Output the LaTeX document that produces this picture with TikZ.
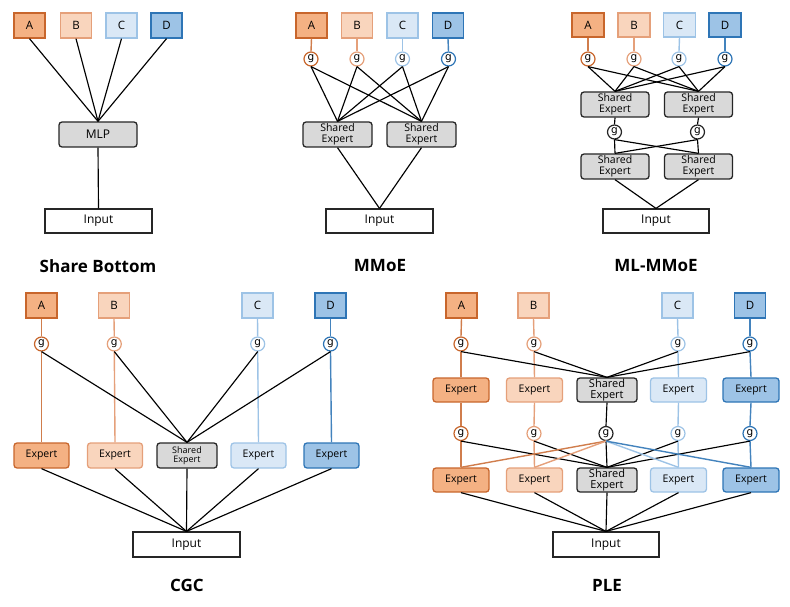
\documentclass[tikz,border=0pt]{standalone}
\usepackage{fontspec}
\setmainfont{Open Sans}
\newfontfamily\gatefont{DejaVu Sans}
\definecolor{oaF}{HTML}{F4B183}
\definecolor{oaD}{HTML}{C8662C}
\definecolor{obF}{HTML}{F9D5BD}
\definecolor{obD}{HTML}{E5A07A}
\definecolor{bcF}{HTML}{DAE8F6}
\definecolor{bcD}{HTML}{9DC3E6}
\definecolor{bdF}{HTML}{9DC3E6}
\definecolor{bdD}{HTML}{2E75B6}
\definecolor{gyF}{HTML}{D9D9D9}
\definecolor{gyD}{HTML}{262626}
\tikzset{
  box/.style={draw, line width=1.3pt, inner sep=0pt, text=black},
  task/.style={box, minimum width=31pt, minimum height=25pt, font=\fontsize{11.5}{11.5}\selectfont},
  tA/.style={task, fill=oaF, draw=oaD},
  tB/.style={task, fill=obF, draw=obD},
  tC/.style={task, fill=bcF, draw=bcD},
  tD/.style={task, fill=bdF, draw=bdD},
  gate/.style={circle, draw, fill=white, line width=1.2pt, minimum size=14pt, inner sep=0pt, font=\gatefont\fontsize{10.5}{10.5}\selectfont},
  gA/.style={gate, draw=oaD}, gB/.style={gate, draw=obD},
  gC/.style={gate, draw=bcD}, gD/.style={gate, draw=bdD},
  gS/.style={gate, draw=gyD},
  expbox/.style={box, rounded corners=3pt, minimum width=55pt, minimum height=25pt, font=\fontsize{10.5}{11}\selectfont},
  eA/.style={expbox, fill=oaF, draw=oaD},
  eB/.style={expbox, fill=obF, draw=obD},
  eC/.style={expbox, fill=bcF, draw=bcD},
  eD/.style={expbox, fill=bdF, draw=bdD},
  shared/.style={expbox, fill=gyF, draw=gyD, align=center, font=\fontsize{10.5}{10.5}\selectfont},
  inbox/.style={box, line width=1.2pt, draw=gyD, fill=white, minimum width=107pt, minimum height=24pt, font=\fontsize{12}{12}\selectfont},
  ttl/.style={font=\bfseries\fontsize{17}{17}\selectfont},
  link/.style={line width=1.15pt, draw=black},
  lA/.style={line width=1.4pt, draw=oaD!85!white},
  lB/.style={line width=1.4pt, draw=obD},
  lC/.style={line width=1.4pt, draw=bcD},
  lD/.style={line width=1.4pt, draw=bdD!90!white},
}
\begin{document}
\begin{tikzpicture}[x=1pt, y=-1pt]
\useasboundingbox (0,0) rectangle (790,607);

% ---------------- Share Bottom ----------------
\node[tA] (sbA) at (29.5,25.5) {A};
\node[tB] (sbB) at (76,25.5) {B};
\node[tC] (sbC) at (121.5,25.5) {C};
\node[tD] (sbD) at (166.5,25.5) {D};
\node[shared, minimum width=78pt, font=\fontsize{12}{12}\selectfont] (sbM) at (98,134.5) {MLP};
\node[inbox] (sbI) at (98.5,221) {Input};
\foreach \t in {A,B,C,D} \draw[link] (sb\t.south) -- (sbM.north);
\draw[link] (sbM.south) -- (sbI.north);
\node[ttl] (sbT) at (98,266) {Share Bottom};

% ---------------- MMoE ----------------
\node[tA] (mmA) at (311.5,25.5) {A};
\node[tB] (mmB) at (357,25.5) {B};
\node[tC] (mmC) at (402.5,25.5) {C};
\node[tD] (mmD) at (448,25.5) {D};
\node[gA] (mmgA) at (311,59) {g};
\node[gB] (mmgB) at (357,59) {g};
\node[gC] (mmgC) at (402.5,59) {g};
\node[gD] (mmgD) at (448.5,59) {g};
\node[shared, minimum width=69pt] (mmS1) at (337.5,134.5) {Shared\\Expert};
\node[shared, minimum width=69pt] (mmS2) at (421.5,134.5) {Shared\\Expert};
\node[inbox] (mmI) at (379.5,221) {Input};
\draw[lA] (mmA.south) -- (mmgA.north);
\draw[lB] (mmB.south) -- (mmgB.north);
\draw[lC] (mmC.south) -- (mmgC.north);
\draw[lD] (mmD.south) -- (mmgD.north);
\foreach \t in {A,B,C,D} {
  \draw[link] (mmg\t.south) -- (mmS1.north);
  \draw[link] (mmg\t.south) -- (mmS2.north);
}
\draw[link] (mmS1.south) -- (mmI.north);
\draw[link] (mmS2.south) -- (mmI.north);
\node[ttl] (mmT) at (380,266) {MMoE};

% ---------------- ML-MMoE ----------------
\node[tA, minimum width=32pt, minimum height=24pt] (mlA) at (588,25) {A};
\node[tB, minimum width=32pt, minimum height=24pt] (mlB) at (634,25) {B};
\node[tC, minimum width=32pt, minimum height=24pt] (mlC) at (679.5,25) {C};
\node[tD, minimum width=32pt, minimum height=24pt] (mlD) at (725,25) {D};
\node[gA] (mlgA) at (588,59) {g};
\node[gB] (mlgB) at (634,59) {g};
\node[gC] (mlgC) at (679,59) {g};
\node[gD] (mlgD) at (725,59) {g};
\node[shared, minimum width=68pt] (mlS1) at (615,104.5) {Shared\\Expert};
\node[shared, minimum width=68pt] (mlS2) at (698.5,104.5) {Shared\\Expert};
\node[gS] (mlg1) at (614.5,132) {g};
\node[gS] (mlg2) at (697.5,132) {g};
\node[shared, minimum width=68pt] (mlS3) at (615,166.5) {Shared\\Expert};
\node[shared, minimum width=68pt] (mlS4) at (698.5,166.5) {Shared\\Expert};
\node[inbox, minimum width=106pt] (mlI) at (656,221) {Input};
\draw[lA] (mlA.south) -- (mlgA.north);
\draw[lB] (mlB.south) -- (mlgB.north);
\draw[lC] (mlC.south) -- (mlgC.north);
\draw[lD] (mlD.south) -- (mlgD.north);
\foreach \t in {A,B,C,D} {
  \draw[link] (mlg\t.south) -- (mlS1.north);
  \draw[link] (mlg\t.south) -- (mlS2.north);
}
\draw[link] (mlS1.south) -- (mlg1.north);
\draw[link] (mlS2.south) -- (mlg2.north);
\draw[link] (mlg1.south) -- (mlS3.north);
\draw[link] (mlg1.south) -- (mlS4.north);
\draw[link] (mlg2.south) -- (mlS3.north);
\draw[link] (mlg2.south) -- (mlS4.north);
\draw[link] (mlS3.south) -- (mlI.north);
\draw[link] (mlS4.south) -- (mlI.north);
\node[ttl] (mlT) at (656,266) {ML-MMoE};

% ---------------- CGC ----------------
\node[tA] (cgA) at (41.5,305.5) {A};
\node[tB] (cgB) at (114,305.5) {B};
\node[tC] (cgC) at (257.5,305.5) {C};
\node[tD] (cgD) at (330.5,305.5) {D};
\node[gA] (cggA) at (41.5,344) {g};
\node[gB] (cggB) at (114.3,344) {g};
\node[gC] (cggC) at (257.7,344) {g};
\node[gD] (cggD) at (330.5,344) {g};
\node[eA] (cgEA) at (41.5,455.5) {Expert};
\node[eB] (cgEB) at (115,455.5) {Expert};
\node[shared, minimum width=60pt, font=\fontsize{9}{9.5}\selectfont] (cgS) at (187,455.5) {Shared\\Expert};
\node[eC] (cgEC) at (258.5,455.5) {Expert};
\node[eD] (cgED) at (331.5,455.5) {Expert};
\node[inbox, minimum height=25pt] (cgI) at (186.5,544.5) {Input};
\draw[lA] (cgA.south) -- (cggA.north);
\draw[lB] (cgB.south) -- (cggB.north);
\draw[lC] (cgC.south) -- (cggC.north);
\draw[lD] (cgD.south) -- (cggD.north);
\draw[lA] (cggA.south) -- (cgEA.north);
\draw[lB] (cggB.south) -- (cgEB.north);
\draw[lC] (cggC.south) -- (cgEC.north);
\draw[lD] (cggD.south) -- (cgED.north);
\foreach \t in {A,B,C,D} \draw[link] (cgg\t.south) -- (cgS.north);
\foreach \e in {EA,EB,S,EC,ED} \draw[link] (cg\e.south) -- (cgI.north);
\node[ttl] (cgT) at (187,585) {CGC};

% ---------------- PLE ----------------
\node[tA] (plA) at (461.5,305.5) {A};
\node[tB] (plB) at (533.5,305.5) {B};
\node[tC] (plC) at (677.5,305.5) {C};
\node[tD] (plD) at (750,305.5) {D};
\node[gA] (plgA) at (461,344) {g};
\node[gB] (plgB) at (534,344) {g};
\node[gC] (plgC) at (678,344) {g};
\node[gD] (plgD) at (750,344) {g};
\node[eA, minimum width=56pt, minimum height=24pt] (plEA) at (461,390) {Expert};
\node[eB, minimum width=56pt, minimum height=24pt] (plEB) at (534.5,390) {Expert};
\node[shared, minimum width=60pt, minimum height=24pt, font=\fontsize{11}{11}\selectfont] (plS) at (607,390) {Shared\\Expert};
\node[eC, minimum width=56pt, minimum height=24pt] (plEC) at (678.5,390) {Expert};
\node[eD, minimum width=56pt, minimum height=24pt] (plED) at (751,390) {Exeprt};
\node[gA] (plhA) at (461,433.5) {g};
\node[gB] (plhB) at (534,433.5) {g};
\node[gS] (plhS) at (606,433.5) {g};
\node[gC] (plhC) at (678,433.5) {g};
\node[gD] (plhD) at (750,433.5) {g};
\node[eA, minimum width=56pt, minimum height=24pt] (plFA) at (461,480) {Expert};
\node[eB, minimum width=56pt, minimum height=24pt] (plFB) at (534.5,480) {Expert};
\node[shared, minimum width=60pt, minimum height=24pt, font=\fontsize{11}{11}\selectfont] (plT) at (607,480) {Shared\\Expert};
\node[eC, minimum width=56pt, minimum height=24pt] (plFC) at (678.5,480) {Expert};
\node[eD, minimum width=56pt, minimum height=24pt] (plFD) at (751,480) {Expert};
\node[inbox, minimum width=106pt, minimum height=25pt] (plI) at (606,544.5) {Input};
% task towers
\draw[lA] (plA.south) -- (plgA.north);
\draw[lB] (plB.south) -- (plgB.north);
\draw[lC] (plC.south) -- (plgC.north);
\draw[lD] (plD.south) -- (plgD.north);
\draw[lA] (plgA.south) -- (plEA.north);
\draw[lB] (plgB.south) -- (plEB.north);
\draw[lC] (plgC.south) -- (plEC.north);
\draw[lD] (plgD.south) -- (plED.north);
\foreach \t in {A,B,C,D} \draw[link] (plg\t.south) -- (plS.north);
\draw[lA] (plEA.south) -- (plhA.north);
\draw[lB] (plEB.south) -- (plhB.north);
\draw[link] (plS.south) -- (plhS.north);
\draw[lC] (plEC.south) -- (plhC.north);
\draw[lD] (plED.south) -- (plhD.north);
\draw[lA] (plhA.south) -- (plFA.north);
\draw[lB] (plhB.south) -- (plFB.north);
\draw[link] (plhS.south) -- (plT.north);
\draw[lC] (plhC.south) -- (plFC.north);
\draw[lD] (plhD.south) -- (plFD.north);
\foreach \t in {A,B,C,D} \draw[link] (plh\t.south) -- (plT.north);
\draw[lA] (plhS.south) -- (plFA.north);
\draw[lB] (plhS.south) -- (plFB.north);
\draw[lC] (plhS.south) -- (plFC.north);
\draw[lD] (plhS.south) -- (plFD.north);
\foreach \e in {FA,FB,T,FC,FD} \draw[link] (pl\e.south) -- (plI.north);
\node[ttl] (plTl) at (607,585) {PLE};
\end{tikzpicture}
\end{document}
